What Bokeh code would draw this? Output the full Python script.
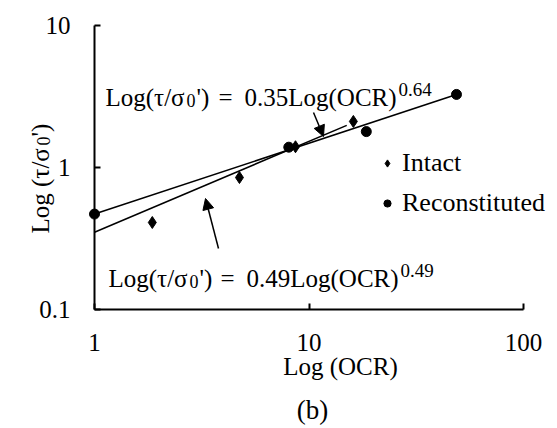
import numpy as np
from bokeh.plotting import figure
from bokeh.models import (Range1d, FixedTicker, Label, Arrow, NormalHead, Legend,
                          LegendItem, CustomJSTickFormatter)
from bokeh.embed import file_html
from bokeh.resources import INLINE

# ---- data ----
intact_ocr = [1.86, 4.74, 8.65, 16.1]
intact_ratio = [0.41, 0.85, 1.40, 2.11]
recon_ocr = [1.0, 8.05, 18.5, 48.7]
recon_ratio = [0.47, 1.39, 1.79, 3.27]
intact_fit_ocr = [1.0, 15.0]
intact_fit_ratio = [0.35, 1.98]
recon_fit_ocr = [1.0, 48.7]
recon_fit_ratio = [0.47, 3.27]
x_ticks = [1, 10, 100]
x_tick_labels = ["1", "10", "100"]
y_ticks = [0.1, 1, 10]
y_tick_labels = ["0.1", "1", "10"]

FONT = "Liberation Serif"
W, H = 557, 428
# pixel placement of the axis box (x: 1..100, y: 0.1..10)
AX_L, AX_R, AX_T, AX_B = 94, 523, 25, 309
XDEC = (AX_R - AX_L) / 2.0
YDEC = (AX_B - AX_T) / 2.0


def dx(px):
    return 10 ** ((px - AX_L) / XDEC)


def dy(py):
    return 10 ** (1 - (py - AX_T) / YDEC)


p = figure(width=W, height=H, x_axis_type="log", y_axis_type="log",
           x_range=Range1d(dx(0), dx(W)), y_range=Range1d(dy(H), dy(0)),
           output_backend="svg", toolbar_location=None,
           min_border=0, min_border_left=0, min_border_right=0,
           min_border_top=0, min_border_bottom=0)
p.outline_line_color = None
p.grid.visible = False
p.background_fill_color = "white"
p.border_fill_color = "white"

fmt_code = """
const i = tv.findIndex(t => Math.abs(Math.log10(t) - Math.log10(tick)) < 1e-6);
return i >= 0 ? tl[i] : '';
"""
p.xaxis.ticker = FixedTicker(ticks=x_ticks, minor_ticks=[])
p.yaxis.ticker = FixedTicker(ticks=y_ticks, minor_ticks=[])
p.xaxis.formatter = CustomJSTickFormatter(args=dict(tv=x_ticks, tl=x_tick_labels), code=fmt_code)
p.yaxis.formatter = CustomJSTickFormatter(args=dict(tv=y_ticks, tl=y_tick_labels), code=fmt_code)
p.xaxis.fixed_location = y_ticks[0]
p.yaxis.fixed_location = x_ticks[0]
p.xaxis.bounds = (x_ticks[0], x_ticks[-1])
p.yaxis.bounds = (y_ticks[0], y_ticks[-1])
for ax in (p.xaxis[0], p.yaxis[0]):
    ax.axis_line_width = 2
    ax.axis_line_color = "black"
    ax.major_tick_in = 6
    ax.major_tick_out = 0
    ax.major_tick_line_width = 2
    ax.major_tick_line_color = "black"
    ax.minor_tick_line_color = None
    ax.major_label_text_font = FONT
    ax.major_label_text_font_size = "25px"
    ax.major_label_text_color = "black"
p.xaxis.major_label_standoff = 24
p.yaxis.major_label_standoff = 24

# trend lines
p.line(intact_fit_ocr, intact_fit_ratio, line_width=1.5, line_color="black")
p.line(recon_fit_ocr, recon_fit_ratio, line_width=1.5, line_color="black")

# points
r_int = p.scatter(intact_ocr, intact_ratio, marker="diamond", size=12,
                  fill_color="black", line_color="black")
r_rec = p.scatter(recon_ocr, recon_ratio, marker="circle", size=10,
                  fill_color="black", line_color="black")

legend = Legend(items=[LegendItem(label="Intact", renderers=[r_int]),
                       LegendItem(label="Reconstituted", renderers=[r_rec])],
                location=(378, H - 218), padding=0, margin=0, spacing=10,
                glyph_width=18, glyph_height=30, label_height=30, label_standoff=6,
                label_text_font=FONT, label_text_font_size="26px", label_text_color="black",
                border_line_color=None, background_fill_alpha=0)
p.add_layout(legend)


def lab(text, px, py, size=25, angle=0.0, align="left", baseline="alphabetic"):
    p.add_layout(Label(x=dx(px), y=dy(py), text=text, text_font=FONT,
                       text_font_size=f"{size}px", text_color="black", angle=angle,
                       text_align=align, text_baseline=baseline))


# upper equation
lab("Log(τ/σ", 105, 96.5)
lab("0", 186, 100, size=18)
lab("')", 196, 96.5)
lab("=", 218, 96.5)
lab("0.35Log(OCR)", 244, 96.5)
lab("0.64", 398, 89, size=19)

# lower equation
lab("Log(τ/σ", 108, 277.5)
lab("0", 189, 281, size=18)
lab("')", 199, 277.5)
lab("=", 220, 277.5)
lab("0.49Log(OCR)", 246, 277.5)
lab("0.49", 400, 270, size=19)

# arrows
head = dict(size=11, fill_color="black", line_color="black")
p.add_layout(Arrow(end=NormalHead(**head), x_start=dx(313), y_start=dy(112),
                   x_end=dx(323), y_end=dy(136), line_width=1.5, line_color="black"))
p.add_layout(Arrow(end=NormalHead(**head), x_start=dx(218), y_start=dy(248),
                   x_end=dx(205), y_end=dy(198), line_width=1.5, line_color="black"))

# axis titles
lab("Log (OCR)", 340, 366, align="center")
lab("(b)", 312, 409, size=27, align="center")
ang = np.pi / 2
lab("Log (τ/σ", 40, 233, angle=ang)
lab("0", 43, 145, size=18, angle=ang)
lab("')", 40, 136, angle=ang)

open("out.html", "w").write(file_html(p, INLINE))
